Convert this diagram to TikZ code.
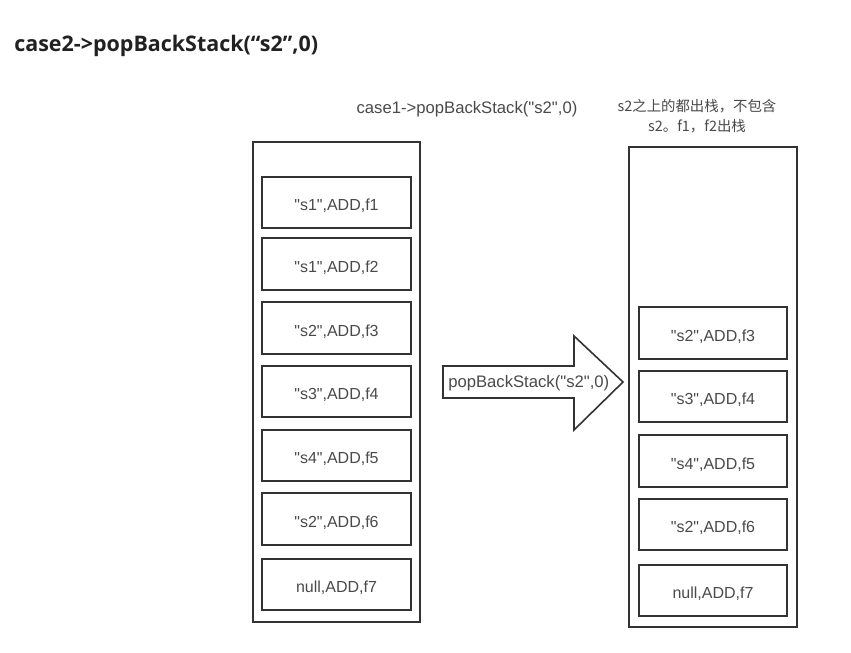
\documentclass[tikz,border=0pt]{standalone}
\usepackage{fontspec}
\setmainfont{Liberation Sans}[Ligatures=TeXOff]
\newfontfamily\cjk{Noto Sans CJK SC}[Ligatures=TeXOff]
\newfontfamily\titlefont{Open Sans}
\definecolor{edge}{HTML}{333333}
\definecolor{txt}{HTML}{4A4A4A}
\begin{document}
\begin{tikzpicture}[x=0.75pt,y=-0.75pt,
  cell/.style={draw=edge,line width=1.5pt,minimum width=148.5*0.75pt,minimum height=51.5*0.75pt,inner sep=0pt,text height=12.4pt,text depth=0pt,font=\fontsize{12pt}{13pt}\selectfont,text=txt},
  container/.style={draw=edge,line width=1.5pt,inner sep=0pt},
  lbl/.style={font=\fontsize{12.5pt}{14pt}\selectfont,text=txt,align=center,inner sep=0pt}]
\useasboundingbox (0,0) rectangle (851,653);
\fill[white] (0,0) rectangle (851,653);
% title
\node[anchor=base west,inner sep=0pt,font=\titlefont\bfseries\fontsize{16.1pt}{18pt}\selectfont,text=black!87] (title) at (14,51) {case2->popBackStack(“s2”,0)};
% left container
\draw[container] (253,142) rectangle (420,622);
\node[cell] (l1) at (336.5,202.5) {"s1",ADD,f1};
\node[cell] (l2) at (336.5,264) {"s1",ADD,f2};
\node[cell] (l3) at (336.5,328) {"s2",ADD,f3};
\node[cell] (l4) at (336.5,391.5) {"s3",ADD,f4};
\node[cell] (l5) at (336.5,455.5) {"s4",ADD,f5};
\node[cell] (l6) at (336.5,519) {"s2",ADD,f6};
\node[cell] (l7) at (336.5,584.5) {null,ADD,f7};
% right container
\draw[container] (629,147) rectangle (797,627);
\node[cell] (r1) at (713,333) {"s2",ADD,f3};
\node[cell] (r2) at (713,396.5) {"s3",ADD,f4};
\node[cell] (r3) at (713,461) {"s4",ADD,f5};
\node[cell] (r4) at (713,524.5) {"s2",ADD,f6};
\node[cell] (r5) at (713,590.5) {null,ADD,f7};
% labels
\node[lbl] (lab1) at (467,109) {case1->popBackStack("s2",0)};
\node[lbl,font=\cjk\fontsize{10.8pt}{15pt}\selectfont] (lab2) at (697,116) {s2之上的都出栈，不包含\\s2。f1，f2出栈};
% arrow
\draw[edge,line width=1.2pt,line join=miter,fill=white]
  (443,366) -- (574,366) -- (574,336) -- (623,382) -- (574,430) -- (574,398) -- (443,398) -- cycle;
\node[lbl,anchor=west] (arr) at (448,383) {popBackStack("s2",0)};
\end{tikzpicture}
\end{document}
